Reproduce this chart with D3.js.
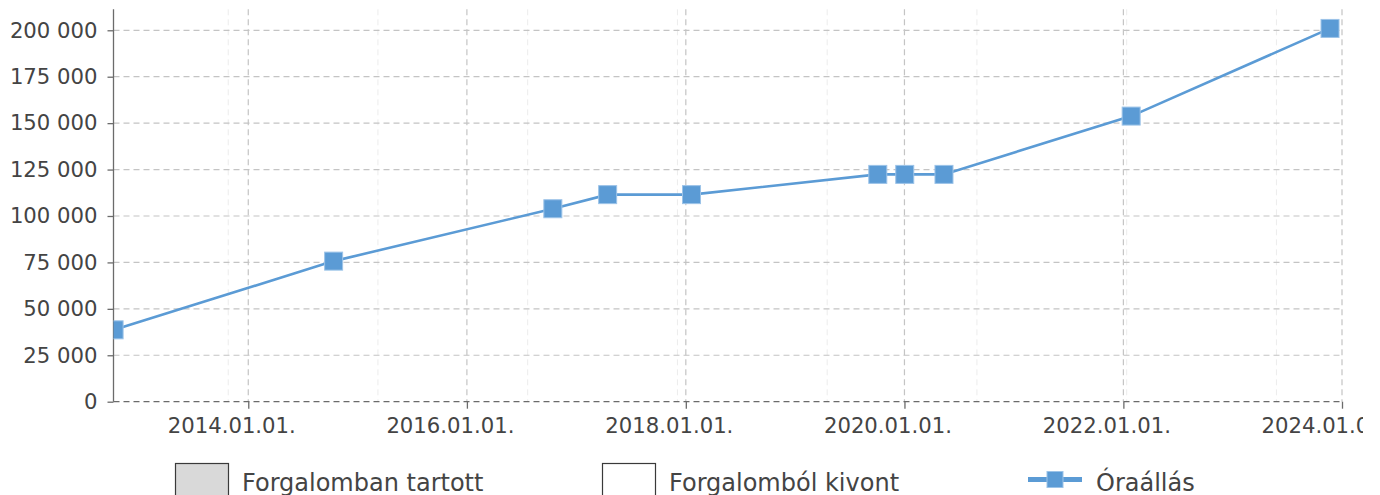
<!DOCTYPE html>
<html>
<head>
<meta charset="utf-8">
<script src="https://cdn.jsdelivr.net/npm/d3@7"></script>
<style>
  body { margin: 0; background: #fff; }
  svg { display: block; overflow: hidden; }
  svg text { font-family: "DejaVu Sans", sans-serif; }
</style>
</head>
<body>
<svg id="chart" width="1363" height="495"></svg>
<script>
// chart data
var dates = ["2012-10-10", "2014-10-13", "2016-10-14", "2017-04-15", "2018-01-20",
             "2019-10-04", "2020-01-02", "2020-05-12", "2022-01-27", "2023-11-22"];
var hours = [38700, 75700, 103900, 111500, 111500, 122400, 122400, 122400, 153800, 201000];
var yTicks = [0, 25000, 50000, 75000, 100000, 125000, 150000, 175000, 200000];
var xTickDates = ["2014-01-01", "2016-01-01", "2018-01-01", "2020-01-01", "2022-01-01", "2024-01-01"];
var legendLabels = ["Forgalomban tartott", "Forgalomból kivont", "Óraállás"];

var svg = d3.select("#chart");
var plotLeft = 113.5, plotRight = 1342, plotTop = 9.3, plotBottom = 401.7;
var blue = "#5b9bd5";
var textColor = "#444444";
var fontFam = "'DejaVu Sans', sans-serif";
var tickFont = 21.2;

var parse = d3.utcParse("%Y-%m-%d");
var x = d3.scaleUtc()
  .domain([parse("2012-10-08"), parse("2024-01-01")])
  .range([plotLeft, plotRight]);
var y = d3.scaleLinear().domain([0, 211300]).range([plotBottom, plotTop]);

var huFormat = d3.formatLocale({ decimal: ",", thousands: "\u00a0", grouping: [3], currency: ["", " Ft"] }).format(",d");
var dateFormat = d3.utcFormat("%Y.%m.%d.");

// minor vertical grid (every ~500 days)
var minor = d3.range(0, 9).map(function (i) { return d3.utcDay.offset(parse("2013-10-26"), i * 500); })
  .filter(function (d) { return d < x.domain()[1]; });
svg.append("g").selectAll("line").data(minor).enter().append("line")
  .attr("x1", d => x(d)).attr("x2", d => x(d))
  .attr("y1", plotTop).attr("y2", plotBottom)
  .attr("stroke", "#ececec").attr("stroke-width", 1).attr("stroke-dasharray", "6,4");

// horizontal grid
svg.append("g").selectAll("line").data(yTicks.filter(d => d > 0)).enter().append("line")
  .attr("x1", plotLeft).attr("x2", plotRight)
  .attr("y1", d => y(d)).attr("y2", d => y(d))
  .attr("stroke", "#c4c4c4").attr("stroke-width", 1.2).attr("stroke-dasharray", "6,4");

// major vertical grid
svg.append("g").selectAll("line").data(xTickDates.map(parse)).enter().append("line")
  .attr("x1", d => x(d)).attr("x2", d => x(d))
  .attr("y1", plotTop).attr("y2", plotBottom)
  .attr("stroke", "#c4c4c4").attr("stroke-width", 1.2).attr("stroke-dasharray", "6,4");

// y axis
var yAxis = svg.append("g").attr("transform", "translate(" + plotLeft + ",0)")
  .call(d3.axisLeft(y).tickValues(yTicks).tickFormat(huFormat).tickSize(6).tickPadding(10));
yAxis.attr("font-family", fontFam).attr("font-size", tickFont);
yAxis.select(".domain").attr("stroke", "#6b6b6b").attr("stroke-width", 1.3)
  .attr("d", "M0," + plotTop + "V" + plotBottom);
yAxis.selectAll(".tick line").attr("stroke", "#6b6b6b").attr("stroke-width", 1.3);
yAxis.selectAll(".tick text").attr("fill", textColor);

// x axis
var xAxis = svg.append("g").attr("transform", "translate(0," + plotBottom + ")")
  .call(d3.axisBottom(x).tickValues(xTickDates.map(parse)).tickFormat(dateFormat).tickSize(7).tickPadding(9));
xAxis.attr("font-family", fontFam).attr("font-size", tickFont);
xAxis.select(".domain").attr("stroke", "#6b6b6b").attr("stroke-width", 1.3)
  .attr("stroke-dasharray", "6,4").attr("d", "M" + plotLeft + ",0H" + plotRight);
xAxis.selectAll(".tick line").attr("stroke", "#6b6b6b").attr("stroke-width", 1.3);
xAxis.selectAll(".tick text").attr("fill", textColor).attr("dx", -17);

// series line
svg.append("clipPath").attr("id", "plotClip").append("rect")
  .attr("x", plotLeft).attr("y", 0).attr("width", 1363 - plotLeft).attr("height", plotBottom);
var plot = svg.append("g").attr("clip-path", "url(#plotClip)");

var points = dates.map(function (d, i) { return [parse(d), hours[i]]; });
plot.append("path").datum(points)
  .attr("fill", "none").attr("stroke", blue).attr("stroke-width", 2.6)
  .attr("d", d3.line().x(d => x(d[0])).y(d => y(d[1])));

var msize = 18;
plot.selectAll("rect.marker").data(points).enter().append("rect")
  .attr("class", "marker")
  .attr("x", d => x(d[0]) - msize / 2).attr("y", d => y(d[1]) - msize / 2)
  .attr("width", msize).attr("height", msize)
  .attr("fill", blue).attr("stroke", "#9cc3e8").attr("stroke-width", 1);

// legend
var legend = svg.append("g");
legend.append("rect").attr("x", 175.5).attr("y", 463.5).attr("width", 53).attr("height", 40)
  .attr("fill", "#d9d9d9").attr("stroke", "#3a3a3a").attr("stroke-width", 1.2);
legend.append("rect").attr("x", 602.5).attr("y", 463.5).attr("width", 53).attr("height", 40)
  .attr("fill", "#ffffff").attr("stroke", "#3a3a3a").attr("stroke-width", 1.2);
legend.append("line").attr("x1", 1028).attr("x2", 1082).attr("y1", 479.5).attr("y2", 479.5)
  .attr("stroke", blue).attr("stroke-width", 5);
legend.append("rect").attr("x", 1047).attr("y", 471.5).attr("width", 16).attr("height", 16)
  .attr("fill", blue).attr("stroke", "#9cc3e8").attr("stroke-width", 1);

var legendX = [242, 669, 1096];
legend.selectAll("text").data(legendLabels).enter().append("text")
  .attr("x", (d, i) => legendX[i]).attr("y", 491)
  .attr("fill", textColor).style("font-size", "24px")
  .text(d => d);
</script>
</body>
</html>
